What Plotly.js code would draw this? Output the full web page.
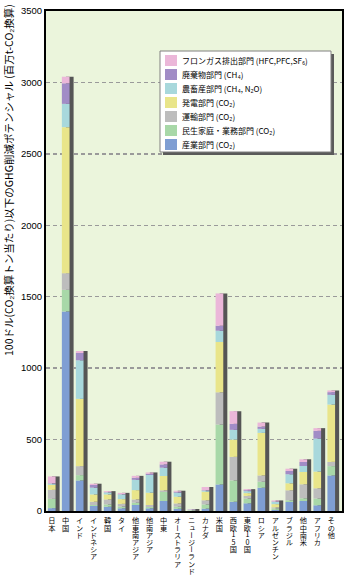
<!DOCTYPE html>
<html>
<head>
<meta charset="utf-8">
<script src="https://cdn.plot.ly/plotly-3.0.1.min.js"></script>
<style>
  html, body { margin: 0; padding: 0; background: #ffffff; }
  #chart { width: 352px; height: 576px; }
</style>
</head>
<body>
<div id="chart"></div>
<script>
// ---- data (百万t-CO2換算) ----
var categories = ['日本','中国','インド','インドネシア','韓国','タイ','他東南アジア','他南アジア','中東','オーストラリア','ニュージーランド','カナダ','米国','西欧15国','東欧10国','ロシア','アルゼンチン','ブラジル','他中南米','アフリカ','その他'];

var industry    = [20, 1397, 214, 35, 30, 19, 42, 19, 70, 16, 2, 17, 186, 65, 54, 163, 8, 63, 70, 40, 249];
var residential = [65, 151, 37, 7, 16, 12, 16, 9, 63, 14, 2, 29, 419, 149, 33, 42, 10, 12, 19, 47, 65];
var transport   = [63, 117, 63, 23, 35, 19, 23, 14, 12, 23, 1, 29, 226, 165, 19, 44, 8, 70, 98, 72, 30];
var power       = [35, 1022, 471, 51, 35, 33, 65, 86, 100, 47, 1, 60, 352, 121, 19, 298, 22, 49, 86, 117, 401];
var agriculture = [8, 163, 270, 47, 14, 33, 72, 124, 58, 28, 4, 8, 79, 68, 14, 28, 16, 63, 42, 231, 68];
var waste       = [3, 144, 51, 19, 2, 2, 14, 9, 23, 7, 1, 3, 35, 42, 7, 16, 3, 23, 28, 54, 19];
var fgas        = [48, 46, 14, 9, 7, 9, 14, 9, 19, 7, 3, 22, 226, 89, 7, 28, 7, 16, 19, 19, 12];

var seriesNames = ['産業部門 (CO₂)','民生家庭・業務部門 (CO₂)','運輸部門 (CO₂)','発電部門 (CO₂)','農畜産部門 (CH₄, N₂O)','廃棄物部門 (CH₄)','フロンガス排出部門 (HFC,PFC,SF₆)'];
var seriesValues = [industry, residential, transport, power, agriculture, waste, fgas];
var seriesColors = ['#7f9ed3','#a8d8a8','#bdbdbd','#e9e58a','#a8d8dc','#a18cc6','#ebb7d9'];

var yTicks = [0, 500, 1000, 1500, 2000, 2500, 3000, 3500];
var yTitle = '100ドル(CO₂換算トン当たり)以下のGHG削減ポテンシャル (百万t-CO₂換算)';

// ---- layout geometry ----
var W = 352, H = 576, L = 46, R = 10, T = 11, B = 65;
var PW = W - L - R, PH = H - T - B;
function px(x) { return (x - L) / PW; }
function py(y) { return (H - B - y) / PH; }

var barW = 0.55, shadowShift = 0.29;
var totals = categories.map(function (_, i) {
  return seriesValues.reduce(function (s, arr) { return s + arr[i]; }, 0);
});

var traces = [{
  type: 'bar', x: categories, y: totals, base: 0,
  width: barW, offset: -barW / 2 + shadowShift,
  marker: { color: '#555555', line: { width: 0 } },
  hoverinfo: 'skip', showlegend: false
}];
var cum = categories.map(function () { return 0; });
seriesValues.forEach(function (vals, k) {
  traces.push({
    type: 'bar', name: seriesNames[k], x: categories, y: vals, base: cum.slice(),
    width: barW, offset: -barW / 2,
    marker: { color: seriesColors[k], line: { width: 0 } },
    showlegend: false
  });
  cum = cum.map(function (c, i) { return c + vals[i]; });
});

// ---- manual legend (box + swatches + labels) ----
var shapes = [], annotations = [];
var boxL = 160, boxR = 331, boxT = 51, boxB = 152;
shapes.push({ type: 'rect', xref: 'paper', yref: 'paper', x0: px(boxL + 3), x1: px(boxR + 3), y0: py(boxB + 3), y1: py(boxT + 3),
  fillcolor: '#5a5a5a', line: { width: 0 } });
shapes.push({ type: 'rect', xref: 'paper', yref: 'paper', x0: px(boxL), x1: px(boxR), y0: py(boxB), y1: py(boxT),
  fillcolor: '#ffffff', line: { color: '#808080', width: 1 } });
for (var r = 0; r < 7; r++) {
  var k = 6 - r;
  var cy = 60.5 + r * 14;
  shapes.push({ type: 'rect', xref: 'paper', yref: 'paper', x0: px(165), x1: px(177), y0: py(cy + 5.5), y1: py(cy - 5.5),
    fillcolor: seriesColors[k], line: { width: 0 } });
  annotations.push({ xref: 'paper', yref: 'paper', x: px(181), y: py(cy), xanchor: 'left', yanchor: 'middle',
    text: seriesNames[k], showarrow: false, borderpad: 0,
    font: { size: 8, color: '#000', family: 'Noto Sans CJK JP, Liberation Sans, sans-serif' } });
}
annotations.push({ xref: 'paper', yref: 'paper', x: px(9), y: py(180), xanchor: 'center', yanchor: 'middle',
  text: yTitle, textangle: -90, showarrow: false,
  font: { size: 10.5, color: '#000', family: 'Noto Sans CJK JP, Liberation Sans, sans-serif' } });

var layout = {
  width: W, height: H,
  margin: { l: L, r: R, t: T, b: B, pad: 0 },
  paper_bgcolor: '#ffffff', plot_bgcolor: '#ebf5dc',
  barmode: 'overlay', showlegend: false,
  font: { family: 'Liberation Sans, Noto Sans CJK JP, sans-serif', color: '#000' },
  xaxis: {
    type: 'category', range: [-0.41, 20.77],
    tickmode: 'array', tickvals: categories, ticktext: categories, tickangle: 0,
    ticks: '', showgrid: false, zeroline: false,
    showline: true, linecolor: '#000', linewidth: 2, mirror: true,
    tickfont: { size: 7.2, family: 'Noto Sans CJK JP, sans-serif', color: '#000' }
  },
  yaxis: {
    range: [0, 3500], tickmode: 'array', tickvals: yTicks,
    ticks: '', showgrid: true, gridcolor: '#9a9a9a', gridwidth: 1.3, griddash: '4px,3px',
    zeroline: false, showline: true, linecolor: '#000', linewidth: 2, mirror: true,
    tickfont: { size: 9.5, family: 'Liberation Sans, sans-serif', color: '#000' }
  },
  shapes: shapes, annotations: annotations
};

var SVGNS = 'http://www.w3.org/2000/svg';
Plotly.newPlot('chart', traces, layout, { staticPlot: true, displayModeBar: false }).then(function (gd) {
  var texts = gd.querySelectorAll('g.xtick text');
  texts.forEach(function (t) {
    t.setAttribute('writing-mode', 'vertical-rl');
    t.style.writingMode = 'vertical-rl';
    t.style.textOrientation = 'upright';
    t.setAttribute('text-anchor', 'start');
    t.setAttribute('y', '517');
    var s = t.textContent;
    var m = s.match(/^(\D*)(\d+)(\D*)$/);
    if (m) {
      while (t.firstChild) t.removeChild(t.firstChild);
      t.appendChild(document.createTextNode(m[1]));
      var ts = document.createElementNS(SVGNS, 'tspan');
      ts.style.textCombineUpright = 'all';
      ts.textContent = m[2];
      t.appendChild(ts);
      t.appendChild(document.createTextNode(m[3]));
    }
  });
});
</script>
</body>
</html>
